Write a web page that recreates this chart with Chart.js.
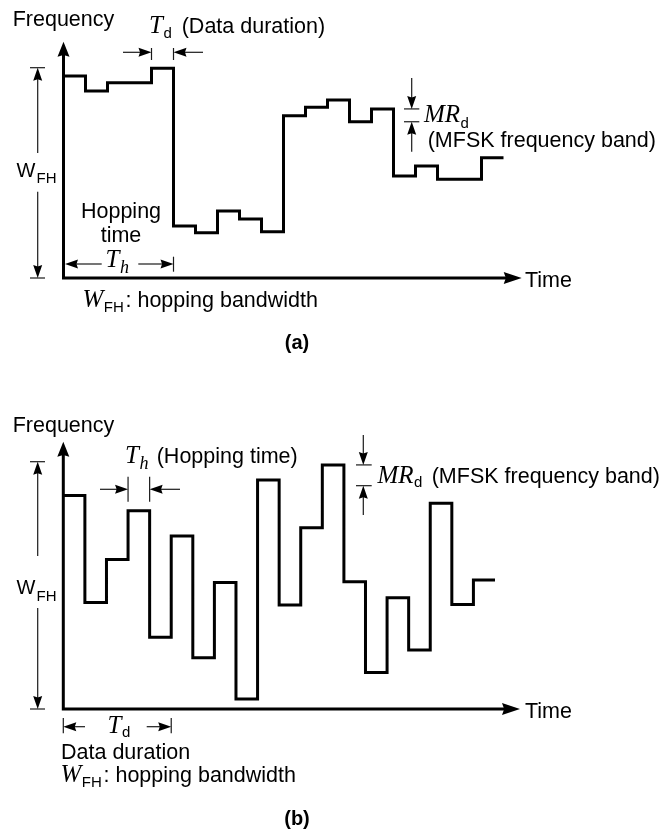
<!DOCTYPE html>
<html>
<head>
<meta charset="utf-8">
<script src="https://cdn.jsdelivr.net/npm/chart.js@4.4.1/dist/chart.umd.min.js"></script>
<style>
  html, body { margin: 0; padding: 0; background: #fff; }
  #wrap { position: relative; width: 668px; height: 831px; }
  canvas { position: absolute; left: 0; }
  #chartA { top: 0; }
  #chartB { top: 365px; }
</style>
</head>
<body>
<div id="wrap">
  <canvas id="chartA" width="668" height="365"></canvas>
  <canvas id="chartB" width="668" height="466"></canvas>
</div>
<script>
// time slots, one per data symbol (T_d)
const slots = [0, 1, 2, 3, 4, 5, 6, 7, 8, 9, 10, 11, 12, 13, 14, 15, 16, 17, 18, 19, 20];

// (a) frequency level held in each slot, in % of W_FH
const freqA = [96.1, 88.9, 92.9, 92.9, 99.7, 24.7, 21.5, 31.9, 28.1, 22.0,
               77.2, 81.2, 84.6, 74.3, 80.4, 48.5, 53.3, 46.9, 46.9, 57.2];

// (b) frequency level held in each slot, in % of W_FH
const freqB = [86.3, 43.1, 60.5, 80.2, 29.0, 70.0, 20.7, 51.2, 4.0, 92.6,
               42.1, 73.3, 98.7, 51.5, 14.8, 45.0, 23.9, 83.2, 42.3, 52.2];

// MFSK band edges marked with MR_d (% of W_FH)
const bandA = [80.4, 74.3];
const bandB = [98.7, 90.3];

const SANS = '"Liberation Sans", Arial, sans-serif';
const SERIF = '"Liberation Serif", "Times New Roman", serif';
const F_TXT = '21.5px ' + SANS;
const F_SUB = '15px ' + SANS;
const F_MATH = 'italic 25px ' + SERIF;
const F_MSUB = 'italic 18px ' + SERIF;

function text(ctx, s, x, y, font, align) {
    ctx.font = font;
    ctx.textAlign = align || 'left';
    ctx.textBaseline = 'alphabetic';
    ctx.fillStyle = '#000';
    ctx.fillText(s, x, y);
}

// italic symbol with a subscript right after it
function math(ctx, main, sub, x, y, subFont, subDy) {
    text(ctx, main, x, y, F_MATH);
    ctx.font = F_MATH;
    let w = ctx.measureText(main).width;
    text(ctx, sub, x + w + 0.5, y + (subDy || 5), subFont || F_SUB);
}

// filled arrow head, tip at (x, y), pointing along (dx, dy)
function head(ctx, x, y, dx, dy, len, half) {
    ctx.beginPath();
    ctx.moveTo(x, y);
    ctx.lineTo(x - dx * len - dy * half, y - dy * len + dx * half);
    ctx.lineTo(x - dx * len * 0.88, y - dy * len * 0.88);
    ctx.lineTo(x - dx * len + dy * half, y - dy * len - dx * half);
    ctx.closePath();
    ctx.fill();
}

function seg(ctx, x1, y1, x2, y2) {
    ctx.beginPath();
    ctx.moveTo(x1, y1);
    ctx.lineTo(x2, y2);
    ctx.stroke();
}

function arrow(ctx, x1, y1, x2, y2, len, half) {
    len = len || 13;
    half = half || 4.5;
    let d = Math.hypot(x2 - x1, y2 - y1);
    let dx = (x2 - x1) / d, dy = (y2 - y1) / d;
    seg(ctx, x1, y1, x2 - dx * len * 0.7, y2 - dy * len * 0.7);
    head(ctx, x2, y2, dx, dy, len, half);
}

function axes(ctx, x0, y0, topTip, rightTip) {
    ctx.strokeStyle = '#000';
    ctx.fillStyle = '#000';
    ctx.lineWidth = 3;
    ctx.lineJoin = 'miter';
    ctx.beginPath();
    ctx.moveTo(x0, topTip + 8);
    ctx.lineTo(x0, y0);
    ctx.lineTo(rightTip - 10, y0);
    ctx.stroke();
    head(ctx, x0, topTip, 0, -1, 15, 6);
    head(ctx, rightTip, y0, 1, 0, 18, 6);
}

function thin(ctx) {
    ctx.strokeStyle = '#1a1a1a';
    ctx.fillStyle = '#000';
    ctx.lineWidth = 1.2;
}

// plugin that draws axes and notes in page coordinates
function notes(off, draw) {
    return {
        id: 'notes' + off,
        afterDatasetsDraw(chart) {
            let ctx = chart.ctx;
            let X = v => chart.scales.x.getPixelForValue(v);
            let Y = v => chart.scales.y.getPixelForValue(v) + off;
            ctx.save();
            ctx.translate(0, -off);
            draw(ctx, X, Y);
            ctx.restore();
        }
    };
}

function makeChart(id, freq, pad, plugin) {
    // hold the last level until the end of the final slot
    let points = slots.map((t, i) => ({ x: t, y: freq[Math.min(i, freq.length - 1)] }));
    return new Chart(document.getElementById(id), {
        type: 'line',
        data: {
            datasets: [{
                data: points,
                stepped: 'before',
                borderColor: '#000',
                borderWidth: 3,
                borderJoinStyle: 'miter',
                pointRadius: 0,
                fill: false,
                clip: false
            }]
        },
        options: {
            responsive: false,
            animation: false,
            devicePixelRatio: 1,
            events: [],
            layout: { padding: pad },
            scales: {
                x: { type: 'linear', min: slots[0], max: slots[slots.length - 1], display: false },
                y: { min: 0, max: 100, display: false }
            },
            plugins: { legend: { display: false }, tooltip: { enabled: false } }
        },
        plugins: [plugin]
    });
}

// panel (a)
makeChart('chartA', freqA, { left: 63.5, right: 164.5, top: 67.7, bottom: 87 }, notes(0, (ctx, X, Y) => {
    axes(ctx, X(0), Y(0), 41.7, 521.7);
    text(ctx, 'Frequency', 12.7, 26, F_TXT);
    text(ctx, 'Time', 525, 286.7, F_TXT);

    thin(ctx);
    // T_d
    seg(ctx, X(4), 48, X(4), 60);
    seg(ctx, X(5), 48, X(5), 60);
    arrow(ctx, 123, 52.3, X(4), 52.3);
    arrow(ctx, 203, 52.3, X(5), 52.3);
    math(ctx, 'T', 'd', 149, 33);
    text(ctx, '(Data duration)', 181.7, 33, F_TXT);

    // W_FH
    thin(ctx);
    seg(ctx, 30, Y(100), 45, Y(100));
    seg(ctx, 30, Y(0), 45, Y(0));
    arrow(ctx, 37.7, 153, 37.7, Y(100));
    arrow(ctx, 37.7, 191.7, 37.7, Y(0));
    text(ctx, 'W', 16.5, 176.7, '20px ' + SANS);
    text(ctx, 'FH', 36.5, 183.3, F_SUB);

    // hopping time T_h
    text(ctx, 'Hopping', 121, 218.3, F_TXT, 'center');
    text(ctx, 'time', 121, 241.7, F_TXT, 'center');
    thin(ctx);
    seg(ctx, X(5), 256.7, X(5), 271.7);
    arrow(ctx, 101.7, 264, X(0) + 1.5, 264);
    arrow(ctx, 138.3, 264, X(5), 264);
    math(ctx, 'T', 'h', 105.5, 266.7, F_MSUB, 6);

    // MR_d
    thin(ctx);
    seg(ctx, 404, Y(bandA[0]), 419.3, Y(bandA[0]));
    seg(ctx, 404, Y(bandA[1]), 419.3, Y(bandA[1]));
    arrow(ctx, 411.7, 78, 411.7, Y(bandA[0]));
    arrow(ctx, 411.7, 151.7, 411.7, Y(bandA[1]));
    math(ctx, 'MR', 'd', 424, 121.7, F_SUB, 6);
    text(ctx, '(MFSK frequency band)', 427.7, 147.3, F_TXT);

    // footer
    math(ctx, 'W', 'FH', 82.5, 306.7);
    text(ctx, ': hopping bandwidth', 125.5, 306.7, F_TXT);
    text(ctx, '(a)', 297, 349.3, 'bold 20px ' + SANS, 'center');
}));

// panel (b)
makeChart('chartB', freqB, { left: 63.3, right: 173, top: 96.7, bottom: 122 }, notes(365, (ctx, X, Y) => {
    axes(ctx, X(0), Y(0), 441.7, 520);
    text(ctx, 'Frequency', 12.7, 431.7, F_TXT);
    text(ctx, 'Time', 525, 717.7, F_TXT);

    // T_h
    thin(ctx);
    seg(ctx, X(3), 476.7, X(3), 501.7);
    seg(ctx, X(4), 476.7, X(4), 501.7);
    arrow(ctx, 100, 489.3, X(3), 489.3);
    arrow(ctx, 180, 489.3, X(4), 489.3);
    math(ctx, 'T', 'h', 125, 463.3, F_MSUB, 6);
    text(ctx, '(Hopping time)', 156.7, 463.3, F_TXT);

    // W_FH
    thin(ctx);
    seg(ctx, 30, Y(100), 45, Y(100));
    seg(ctx, 30, Y(0), 45, Y(0));
    arrow(ctx, 37.7, 556, 37.7, Y(100));
    arrow(ctx, 37.7, 608, 37.7, Y(0));
    text(ctx, 'W', 16.5, 594, '20px ' + SANS);
    text(ctx, 'FH', 36.5, 600.7, F_SUB);

    // MR_d
    thin(ctx);
    seg(ctx, 356, Y(bandB[0]), 371.7, Y(bandB[0]));
    seg(ctx, 356, Y(bandB[1]), 371.7, Y(bandB[1]));
    arrow(ctx, 363.3, 435, 363.3, Y(bandB[0]));
    arrow(ctx, 363.3, 515, 363.3, Y(bandB[1]));
    math(ctx, 'MR', 'd', 377.5, 483.3, F_SUB, 4);
    text(ctx, '(MFSK frequency band)', 431.7, 483.3, F_TXT);

    // T_d
    thin(ctx);
    seg(ctx, X(0), 718, X(0), 733.3);
    seg(ctx, X(5), 718, X(5), 733.3);
    arrow(ctx, 85, 726.7, X(0), 726.7);
    arrow(ctx, 146.7, 726.7, X(5), 726.7);
    math(ctx, 'T', 'd', 107.5, 733.3, F_SUB, 4);

    // footer
    text(ctx, 'Data duration', 61, 759.3, F_TXT);
    math(ctx, 'W', 'FH', 60.5, 781.7);
    text(ctx, ': hopping bandwidth', 103.5, 781.7, F_TXT);
    text(ctx, '(b)', 297, 825, 'bold 20px ' + SANS, 'center');
}));
</script>
</body>
</html>
